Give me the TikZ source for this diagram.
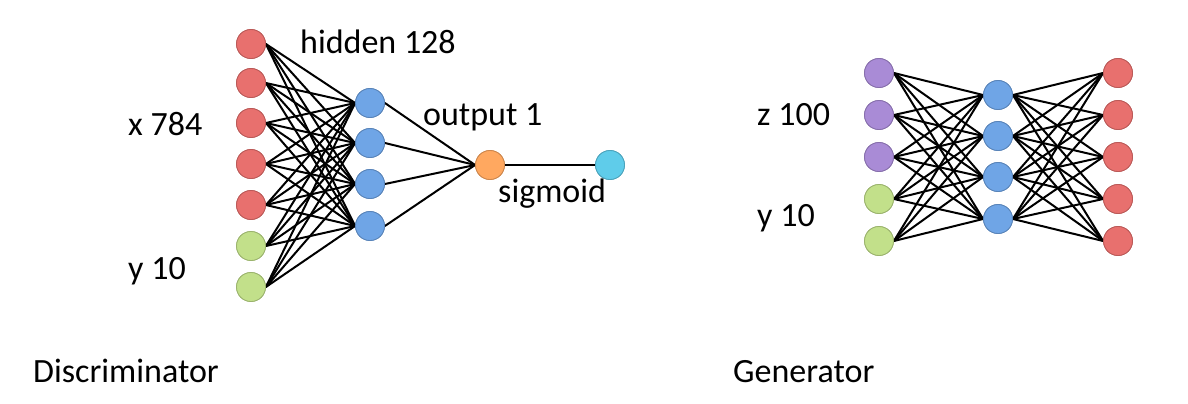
\documentclass[tikz,border=0pt]{standalone}
\usepackage{fontspec}
\setmainfont{Carlito}
\definecolor{nred}{HTML}{E8706E}
\definecolor{ngreen}{HTML}{C2E08A}
\definecolor{nblue}{HTML}{6FA5E6}
\definecolor{npurple}{HTML}{A98BD6}
\definecolor{norange}{HTML}{FFA860}
\definecolor{ncyan}{HTML}{5FCCEA}
\tikzset{
  neuron/.style={circle, minimum size=29pt, inner sep=0pt, line width=0.8pt},
  redn/.style={neuron, fill=nred, draw=nred!80!black},
  greenn/.style={neuron, fill=ngreen, draw=ngreen!80!black},
  bluen/.style={neuron, fill=nblue, draw=nblue!80!black},
  purplen/.style={neuron, fill=npurple, draw=npurple!80!black},
  orangen/.style={neuron, fill=norange, draw=norange!80!black},
  cyann/.style={neuron, fill=ncyan, draw=ncyan!80!black},
  edge/.style={line width=2pt, black},
  lbl/.style={anchor=base west, inner sep=0pt, font=\fontsize{34}{41}\selectfont}
}
\begin{document}
\begin{tikzpicture}[x=1pt,y=-1pt]
\useasboundingbox (0,0) rectangle (1188,404);
% Discriminator inputs
\foreach \i/\y in {1/44,2/83,3/123,4/164,5/205}{
  \node[redn] (d\i) at (251,\y) {};
}
\node[greenn] (d6) at (251,246) {};
\node[greenn] (d7) at (251,287) {};
% hidden
\foreach \i/\y in {1/103,2/143,3/184,4/226}{
  \node[bluen] (h\i) at (370,\y) {};
}
\node[orangen] (o) at (490,165) {};
\node[cyann] (s) at (610,165) {};
% edges
\foreach \i in {1,...,7}{
  \foreach \j in {1,...,4}{
    \draw[edge] (d\i.east) -- (h\j.west);
  }
}
\foreach \j in {1,...,4}{
  \draw[edge] (h\j.east) -- (o.west);
}
\draw[edge] (o.east) -- (s.west);
% redraw nodes on top
\foreach \i/\y in {1/44,2/83,3/123,4/164,5/205}{
  \node[redn] at (251,\y) {};
}
\node[greenn] at (251,246) {};
\node[greenn] at (251,287) {};
\foreach \i/\y in {1/103,2/143,3/184,4/226}{
  \node[bluen] at (370,\y) {};
}
\node[orangen] at (490,165) {};
\node[cyann] at (610,165) {};

% Generator
\node[purplen] (g1) at (879,73) {};
\node[purplen] (g2) at (879,115) {};
\node[purplen] (g3) at (879,157) {};
\node[greenn] (g4) at (879,199) {};
\node[greenn] (g5) at (879,241) {};
\foreach \i/\y in {1/95,2/136,3/177,4/219}{
  \node[bluen] (k\i) at (998,\y) {};
}
\foreach \i/\y in {1/73,2/115,3/157,4/199,5/241}{
  \node[redn] (r\i) at (1118,\y) {};
}
\foreach \i in {1,...,5}{
  \foreach \j in {1,...,4}{
    \draw[edge] (g\i.east) -- (k\j.west);
    \draw[edge] (k\j.east) -- (r\i.west);
  }
}
\node[purplen] at (879,73) {};
\node[purplen] at (879,115) {};
\node[purplen] at (879,157) {};
\node[greenn] at (879,199) {};
\node[greenn] at (879,241) {};
\foreach \i/\y in {1/95,2/136,3/177,4/219}{
  \node[bluen] at (998,\y) {};
}
\foreach \i/\y in {1/73,2/115,3/157,4/199,5/241}{
  \node[redn] at (1118,\y) {};
}

% labels
\node[lbl] (t1) at (300,53) {hidden 128};
\node[lbl] (t2) at (128,135) {x 784};
\node[lbl] (t3) at (128,279) {y 10};
\node[lbl] (t4) at (423,125) {output 1};
\node[lbl] (t5) at (498,202) {sigmoid};
\node[lbl] (t6) at (33,382) {Discriminator};
\node[lbl] (t7) at (757,125) {z 100};
\node[lbl] (t8) at (757,226) {y 10};
\node[lbl] (t9) at (733,382) {Generator};
\end{tikzpicture}
\end{document}
